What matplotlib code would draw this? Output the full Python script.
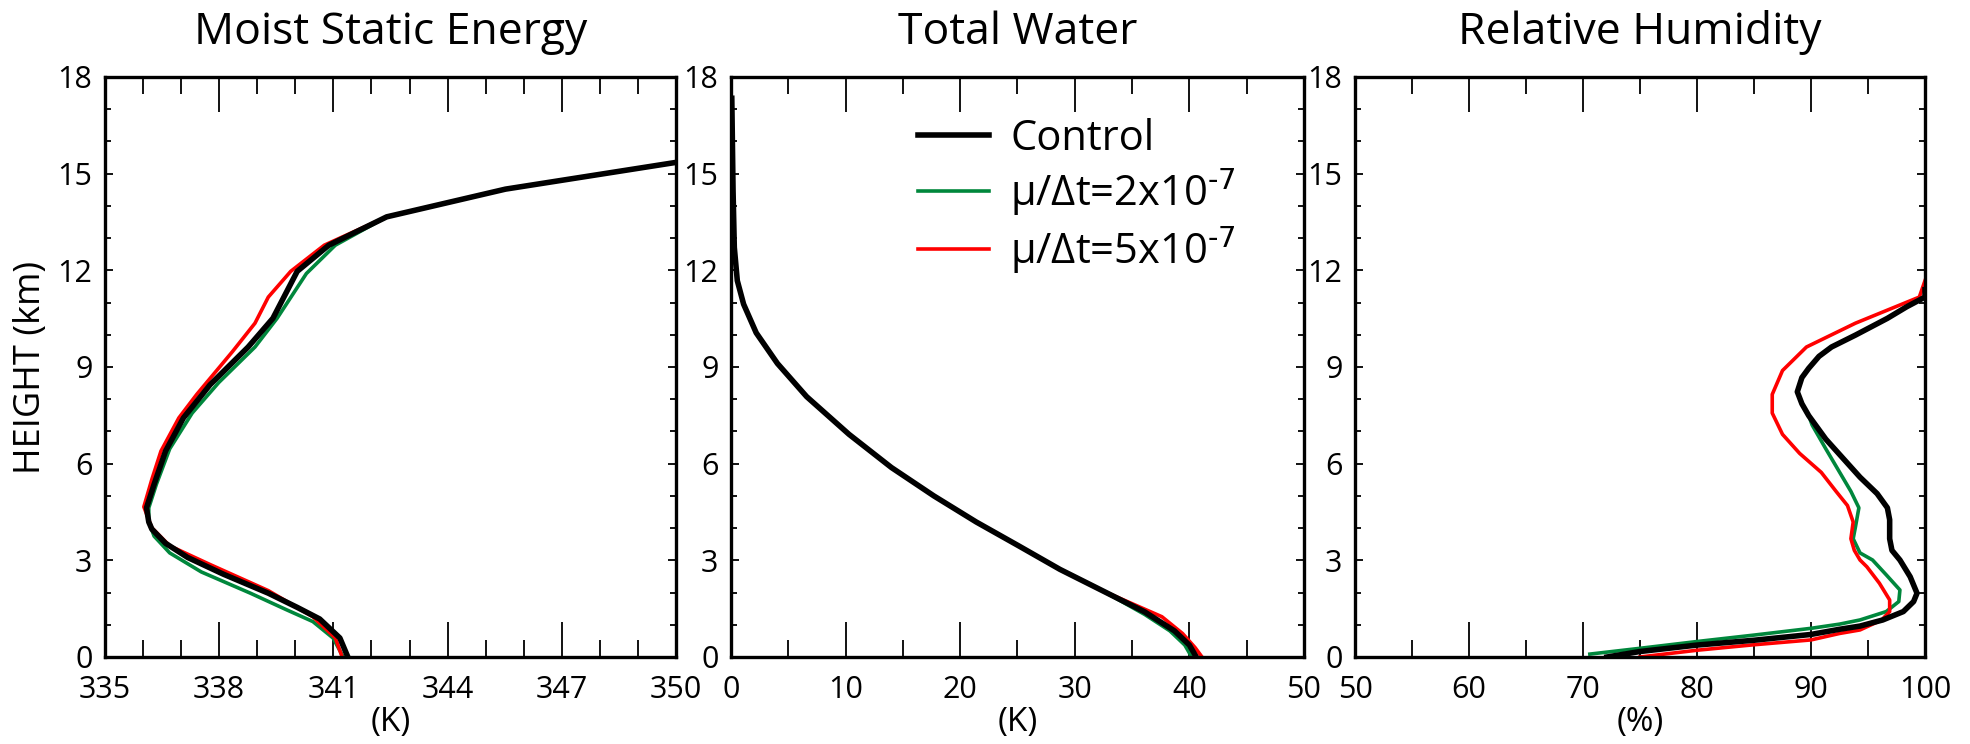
import matplotlib
matplotlib.use("Agg")
import matplotlib.pyplot as plt
import numpy as np
from matplotlib.ticker import FixedLocator, MultipleLocator

plt.rcParams['font.family'] = ['Open Sans', 'DejaVu Sans']
plt.rcParams['mathtext.default'] = 'regular'

# ---------------- data ----------------
titles = ["Moist Static Energy", "Total Water", "Relative Humidity"]
xlabels = ["(K)", "(K)", "(%)"]
series_labels = ["Control", "\u03bc/\u0394t=2x10$^{\\text{-7}}$", "\u03bc/\u0394t=5x10$^{\\text{-7}}$"]

# Moist static energy (K) vs height (km)
mse_ctl_x = [341.38, 341.17, 340.64, 340.05, 339.29, 338.11, 337.17, 336.59, 336.23, 336.15, 336.09,
             336.29, 336.59, 337.06, 337.76, 338.76, 339.41, 340.05, 340.88, 342.40, 345.52, 350.0]
mse_ctl_z = [0.0, 0.59, 1.18, 1.54, 1.98, 2.57, 3.09, 3.53, 3.97, 4.19, 4.63,
             5.36, 6.39, 7.42, 8.45, 9.62, 10.51, 11.97, 12.78, 13.66, 14.52, 15.35]
mse_g_x = [341.26, 340.99, 340.46, 339.76, 338.82, 337.53, 336.70, 336.29, 336.15, 336.15,
           336.35, 336.70, 337.29, 337.99, 338.94, 339.52, 340.29, 341.05, 342.40, 345.52, 350.0]
mse_g_z = [0.0, 0.59, 1.10, 1.47, 1.98, 2.64, 3.23, 3.75, 4.19, 4.63,
           5.36, 6.46, 7.57, 8.52, 9.62, 10.51, 11.90, 12.78, 13.66, 14.52, 15.35]
mse_r_x = [341.23, 341.05, 340.46, 339.29, 337.76, 336.70, 336.23, 336.02, 336.23, 336.47,
           336.94, 337.41, 338.35, 338.94, 339.29, 339.88, 340.76, 342.40, 345.52, 350.0]
mse_r_z = [0.0, 0.59, 1.25, 2.06, 2.87, 3.45, 4.01, 4.66, 5.51, 6.39,
           7.42, 8.15, 9.48, 10.36, 11.17, 11.97, 12.78, 13.66, 14.52, 15.35]

# Total water vs height (km)
tw_ctl_x = [40.6, 40.0, 38.7, 36.1, 32.4, 28.7, 25.1, 21.4, 17.7, 14.0, 10.3, 6.6, 4.05, 2.2, 1.1, 0.55, 0.29, 0.18, 0.07]
tw_ctl_z = [0.0, 0.37, 0.81, 1.40, 2.06, 2.72, 3.45, 4.19, 5.00, 5.88, 6.91, 8.08, 9.11, 10.06, 10.95, 11.68, 12.71, 14.47, 17.34]
tw_g_x = [40.2, 39.6, 38.3, 36.1, 32.4, 28.7, 25.1, 21.4, 17.7, 14.0, 10.3, 6.6, 4.05, 2.2, 1.1, 0.55, 0.29, 0.18, 0.07]
tw_g_z = [0.0, 0.37, 0.81, 1.32, 2.06, 2.72, 3.45, 4.19, 5.00, 5.88, 6.91, 8.08, 9.11, 10.06, 10.95, 11.68, 12.71, 14.47, 17.34]
tw_r_x = [41.1, 40.5, 39.4, 37.6, 32.4, 28.7, 25.1, 21.4, 17.7, 14.0, 10.3, 6.6, 4.05, 2.2, 1.1, 0.55, 0.29, 0.18, 0.07]
tw_r_z = [0.0, 0.29, 0.73, 1.25, 2.06, 2.72, 3.45, 4.19, 5.00, 5.88, 6.91, 8.08, 9.11, 10.06, 10.95, 11.68, 12.71, 14.47, 17.34]

# Relative humidity (%) vs height (km)
rh_ctl_x = [72.1, 75.0, 80.0, 85.0, 90.0, 92.5, 94.3, 96.3, 98.1, 99.0, 99.3, 98.7, 97.8, 97.1, 96.9, 96.9,
            96.7, 95.8, 94.3, 92.8, 91.3, 89.8, 89.2, 88.8, 89.2, 89.8, 90.7, 91.8, 93.9, 96.7, 98.4, 100.0, 100.0]
rh_ctl_z = [0.0, 0.17, 0.37, 0.52, 0.70, 0.86, 0.96, 1.15, 1.41, 1.72, 1.98, 2.49, 3.01, 3.31, 3.67, 4.26,
            4.63, 5.07, 5.58, 6.17, 6.76, 7.49, 7.86, 8.23, 8.67, 8.96, 9.33, 9.62, 9.99, 10.51, 10.87, 11.17, 11.40]
rh_g_x = [70.6, 75.0, 80.0, 85.0, 90.0, 92.5, 94.3, 96.6, 97.7, 97.8, 96.6, 95.4, 94.3, 93.7, 93.9, 94.2,
          93.5, 92.4, 91.3, 90.1, 89.8, 89.2, 88.8, 89.2, 89.8, 90.7, 91.8, 93.9, 96.7, 98.4, 100.0, 100.0]
rh_g_z = [0.09, 0.27, 0.48, 0.68, 0.89, 1.02, 1.15, 1.41, 1.72, 2.08, 2.55, 3.01, 3.23, 3.67, 4.04, 4.63,
          5.14, 5.80, 6.46, 7.20, 7.49, 7.86, 8.23, 8.67, 8.96, 9.33, 9.62, 9.99, 10.51, 10.87, 11.17, 11.40]
rh_r_x = [75.0, 80.0, 85.0, 90.0, 92.5, 94.3, 96.2, 96.9, 96.9, 96.0, 94.9, 94.3, 93.8, 93.5, 93.7, 93.2,
          92.2, 90.9, 89.0, 87.5, 86.6, 86.6, 87.5, 89.6, 93.9, 99.5, 100.0]
rh_r_z = [0.0, 0.21, 0.38, 0.53, 0.73, 0.84, 1.15, 1.41, 1.77, 2.29, 2.80, 3.01, 3.31, 3.67, 4.19, 4.70,
          5.14, 5.73, 6.32, 6.91, 7.57, 8.15, 8.89, 9.62, 10.36, 11.17, 11.68]

xlims = [(335, 350), (0, 50), (50, 100)]
xmajor = [3, 10, 10]
xminor = [1, 5, 5]
ylim = (0, 18)

panels = [
    (mse_ctl_x, mse_ctl_z, mse_g_x, mse_g_z, mse_r_x, mse_r_z),
    (tw_ctl_x, tw_ctl_z, tw_g_x, tw_g_z, tw_r_x, tw_r_z),
    (rh_ctl_x, rh_ctl_z, rh_g_x, rh_g_z, rh_r_x, rh_r_z),
]

# ---------------- style ----------------
W, H = 1970, 744
fig = plt.figure(figsize=(W / 100, H / 100), dpi=100)
boxes = [(105, 676), (731, 1304), (1355, 1925)]
top_px, bot_px = 77, 657

c_ctl = 'black'
c_g = '#00873c'
c_r = '#ff0000'

for i, (l, r) in enumerate(boxes):
    ax = fig.add_axes([l / W, (H - bot_px) / H, (r - l) / W, (bot_px - top_px) / H])
    cx, cz, gx, gz, rx, rz = panels[i]
    lg, = ax.plot(gx, gz, color=c_g, lw=2.6, solid_joinstyle='round')
    lr, = ax.plot(rx, rz, color=c_r, lw=2.6, solid_joinstyle='round')
    lc, = ax.plot(cx, cz, color=c_ctl, lw=4.0, solid_joinstyle='round')
    x0, x1 = xlims[i]
    ax.set_xlim(x0, x1)
    ax.set_ylim(*ylim)
    ax.xaxis.set_major_locator(FixedLocator(np.arange(x0, x1 + 0.01, xmajor[i])))
    ax.xaxis.set_minor_locator(FixedLocator(np.arange(x0, x1 + 0.01, xminor[i])))
    ax.yaxis.set_major_locator(MultipleLocator(3))
    ax.yaxis.set_minor_locator(MultipleLocator(1))
    ax.tick_params(axis='x', which='major', direction='in', length=25, width=1.3,
                   top=True, bottom=True, labelsize=22, pad=13)
    ax.tick_params(axis='x', which='minor', direction='in', length=12, width=1.3,
                   top=True, bottom=True)
    ax.tick_params(axis='y', which='major', direction='in', length=6, width=1.3,
                   left=True, right=True, labelsize=22, pad=9)
    ax.tick_params(axis='y', which='minor', direction='in', length=4, width=1.3,
                   left=True, right=True)
    for s in ax.spines.values():
        s.set_linewidth(2.4)
    ax.set_title(titles[i], fontsize=32, pad=24)
    ax.set_xlabel(xlabels[i], fontsize=24, labelpad=1)
    if i == 0:
        ax.set_ylabel("HEIGHT (km)", fontsize=26, labelpad=6)
    if i == 1:
        ax.legend([lc, lg, lr], series_labels, loc='upper left',
                  bbox_to_anchor=(0.327, 0.93), frameon=False, fontsize=30,
                  handlelength=1.7, handletextpad=0.5, labelspacing=0.15,
                  borderpad=0, borderaxespad=0)

fig.savefig("out.png", dpi=100)
